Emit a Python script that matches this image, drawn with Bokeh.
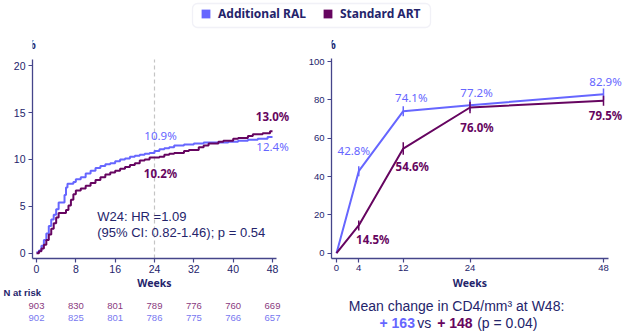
import numpy as np
from bokeh.plotting import figure
from bokeh.models import (Range1d, Label, LabelSet, ColumnDataSource, Legend,
                          LegendItem, BoxAnnotation, FixedTicker)
from bokeh.core.properties import value
from bokeh.layouts import column, row
from bokeh.embed import file_html
from bokeh.resources import INLINE

# ---------------- data ----------------
series_names = ["Additional RAL", "Standard ART"]

km_ral_weeks = [0, 0.5, 1, 1.5, 2, 2.5, 3, 3.5, 4, 4.5, 5.7, 6, 6.3, 7.5, 8, 9, 10, 11, 12,
                13, 14, 15, 16, 17, 18, 19, 20, 21, 22, 23, 24, 25, 26, 27, 28, 30, 32, 34,
                39, 41, 43, 45, 47, 48]
km_ral_pct = [0.1, 0.3, 0.8, 1.4, 2.1, 2.9, 3.6, 4.1, 4.7, 5.4, 6.2, 7.0, 7.4, 7.6, 7.9, 8.1,
              8.5, 8.8, 9.1, 9.3, 9.5, 9.6, 9.8, 10.0, 10.1, 10.3, 10.4, 10.5, 10.6, 10.7,
              10.9, 11.1, 11.2, 11.3, 11.5, 11.6, 11.7, 11.8, 11.9, 12.0, 12.1, 12.2, 12.4, 12.4]

km_art_weeks = [0, 0.5, 1, 1.5, 2, 2.5, 3, 3.5, 4, 4.5, 6, 6.5, 7, 7.5, 8, 9, 10, 11, 12, 13,
                14, 15, 16, 17, 18, 19, 20, 21, 22, 23, 25, 26, 27, 28, 30, 31, 33, 34, 35,
                37, 38, 40, 41, 43, 44, 46, 47.5, 48]
km_art_pct = [0.0, 0.2, 0.5, 0.9, 1.4, 2.0, 2.6, 3.2, 3.8, 4.3, 4.6, 5.1, 5.7, 6.3, 6.7, 6.9,
              7.2, 7.5, 7.8, 8.1, 8.4, 8.6, 8.8, 9.0, 9.2, 9.4, 9.6, 9.9, 10.0, 10.2, 10.3,
              10.5, 10.6, 10.7, 10.9, 11.0, 11.3, 11.5, 11.7, 11.9, 12.0, 12.2, 12.3, 12.5,
              12.7, 12.8, 13.0, 13.0]

km_x_ticks = [0, 8, 16, 24, 32, 40, 48]
km_y_ticks = [0, 5, 10, 15, 20]
km_marker_week = 24
km_label_weeks = [24, 24, 48, 48]
km_label_values = [10.9, 10.2, 13.0, 12.4]
km_label_series = ["RAL", "ART", "ART", "RAL"]

risk_weeks = [0, 8, 16, 24, 32, 40, 48]
risk_art = [903, 830, 801, 789, 776, 760, 669]
risk_ral = [902, 825, 801, 786, 775, 766, 657]

cd4_weeks = [0, 4, 12, 24, 48]
cd4_x_ticks = [0, 4, 12, 24, 48]
cd4_y_ticks = [0, 20, 40, 60, 80, 100]
cd4_ral = [0, 42.8, 74.1, 77.2, 82.9]
cd4_art = [0, 14.5, 54.6, 76.0, 79.5]
cd4_ral_err = [0, 2.6, 2.6, 3.0, 3.0]
cd4_art_err = [0, 2.6, 3.3, 3.0, 2.6]

hr_text = ["W24: HR =1.09", "(95% CI: 0.82-1.46);  p = 0.54"]
cd4_note = "Mean change in CD4/mm\u00b3  at W48:"
cd4_change_ral = "+ 163"
cd4_change_art = "+ 148"
cd4_p = "(p = 0.04)"

# ---------------- styles ----------------
BLUE = "#6666FF"
PURPLE = "#660560"
NAVY = "#24246B"
AXIS = "#45458A"
RISK_PURPLE = "#8A3A80"
RISK_BLUE = "#7878F0"
SANS = "Liberation Sans"
LBL = "Noto Sans"

# page geometry (pixels)
TOP_H = 30            # legend strip: page y 0..30
FRAME_TOP = 36
AXIS_Y = 258
MAIN_BOTTOM = 276     # panels: page y 30..276
MAIN_H = MAIN_BOTTOM - TOP_H
BELOW_H = 334 - MAIN_BOTTOM
# left panel: week 0 at page x 36, week 48 at x 272; 0 % at y 252.7
L_X0, L_PXW, L_Y0, L_PXV = 36.0, 236 / 48, 252.7, 9.375
# right panel (page x offset 300): week 0 at x 336; 0 % at y 252.7
R_X0, R_PXW, R_Y0, R_PXV = 336.0, 5.5625, 252.7, 1.917


def style(p, xticks, yticks, fs, xb, yb):
    p.outline_line_color = None
    p.xgrid.grid_line_color = None
    p.ygrid.grid_line_color = None
    p.background_fill_color = "white"
    p.border_fill_color = "white"
    for ax in (p.xaxis[0], p.yaxis[0]):
        ax.axis_line_color = AXIS
        ax.axis_line_width = 1.3
        ax.major_tick_line_color = AXIS
        ax.major_tick_line_width = 1.2
        ax.major_tick_out = 4
        ax.major_tick_in = 0
        ax.minor_tick_line_color = None
        ax.major_label_text_font = SANS
        ax.major_label_text_font_size = fs
        ax.major_label_text_color = NAVY
    p.xaxis[0].major_label_standoff = 2
    p.yaxis[0].major_label_standoff = 3
    p.xaxis[0].ticker = FixedTicker(ticks=xticks)
    p.yaxis[0].ticker = FixedTicker(ticks=yticks)
    p.xaxis[0].bounds = xb
    p.yaxis[0].bounds = yb


def strip(width, x_start, x_end, y_start, y_end):
    f = figure(width=width, height=BELOW_H, x_range=Range1d(x_start, x_end),
               y_range=Range1d(y_start, y_end), x_axis_type=None, y_axis_type=None,
               min_border=0, toolbar_location=None, output_backend="svg", title=None)
    f.outline_line_color = None
    f.xgrid.grid_line_color = None
    f.ygrid.grid_line_color = None
    return f


# ---------------- legend strip ----------------
top = figure(width=626, height=TOP_H, x_range=Range1d(0, 626), y_range=Range1d(0, TOP_H),
             x_axis_type=None, y_axis_type=None, min_border=0, toolbar_location=None,
             output_backend="svg", title=None)
top.outline_line_color = None
top.xgrid.grid_line_color = None
top.ygrid.grid_line_color = None
top.add_layout(BoxAnnotation(left=192, right=430, bottom=3, top=27, fill_color="white",
                             fill_alpha=1, line_color="#CFCFE6", line_width=1.3,
                             border_radius=5))
nan1 = np.array([np.nan])
r1 = top.rect(x=nan1, y=nan1, width=1, height=1, fill_color=BLUE, line_color=None)
r2 = top.rect(x=nan1, y=nan1, width=1, height=1, fill_color=PURPLE, line_color=None)
legend = Legend(items=[LegendItem(label=series_names[0], renderers=[r1]),
                       LegendItem(label=series_names[1], renderers=[r2])],
                orientation="horizontal", location=(200, 8), padding=0, margin=0,
                spacing=16, glyph_width=11, glyph_height=11, label_standoff=7,
                label_height=12, label_text_font=LBL, label_text_font_style="bold",
                label_text_font_size="12px", label_text_color=NAVY,
                border_line_color=None, background_fill_alpha=0)
top.add_layout(legend)

# ---------------- left: Kaplan-Meier ----------------
lx0, lx1 = -4 / L_PXW, 48 + 24 / L_PXW        # frame page x 32..296
ly0, ly1 = (L_Y0 - AXIS_Y) / L_PXV, (L_Y0 - FRAME_TOP) / L_PXV
left = figure(width=300, height=MAIN_H, x_range=Range1d(lx0, lx1), y_range=Range1d(ly0, ly1),
              min_border_left=32, min_border_right=4, min_border_top=FRAME_TOP - TOP_H,
              min_border_bottom=MAIN_BOTTOM - AXIS_Y, toolbar_location=None,
              output_backend="svg", title=None)
l_ytop = (L_Y0 - 59) / L_PXV
style(left, km_x_ticks, km_y_ticks, "10.5px", (lx0, 48 + 4 / L_PXW), (ly0, l_ytop))
left.segment(x0=[km_marker_week], y0=[ly0], x1=[km_marker_week], y1=[l_ytop],
             line_color="#C4C4C4", line_dash="4 3", line_width=1.2)
left.step(km_ral_weeks, km_ral_pct, mode="after", line_color=BLUE, line_width=2)
left.step(km_art_weeks, km_art_pct, mode="after", line_color=PURPLE, line_width=2)

km_dx = [6, 6, 0, 0]
km_dy = [16, -16, 15, -10]
km_src = ColumnDataSource(dict(
    x=km_label_weeks, y=km_label_values,
    text=["%.1f%%" % v for v in km_label_values],
    color=[BLUE if s == "RAL" else PURPLE for s in km_label_series],
    style=["normal" if s == "RAL" else "bold" for s in km_label_series],
    dx=km_dx, dy=km_dy))
left.add_layout(LabelSet(x="x", y="y", text="text", source=km_src, x_offset="dx",
                         y_offset="dy", text_color="color", text_font_style="style",
                         text_font=value(LBL), text_font_size=value("11.5px"),
                         text_align="center", text_baseline="middle"))

left.add_layout(Label(x=(30 - L_X0) / L_PXW, y=(L_Y0 - 44) / L_PXV, text="%",
                      text_font=LBL, text_font_size="12px", text_font_style="bold",
                      text_color=NAVY, text_align="center", text_baseline="middle"))
for i, t in enumerate(hr_text):
    left.add_layout(Label(x=(96.7 - L_X0) / L_PXW, y=(L_Y0 - 216 - 15.7 * i) / L_PXV,
                          text=t, text_font=SANS, text_font_size="13px", text_color=NAVY,
                          text_align="left", text_baseline="middle"))

# strip under the left panel (same scale as the panel)
lb = strip(300, -L_X0 / L_PXW, (300 - L_X0) / L_PXW,
           (L_Y0 - 334) / L_PXV, (L_Y0 - MAIN_BOTTOM) / L_PXV)
lb.add_layout(Label(x=24, y=(L_Y0 - 282) / L_PXV, text="Weeks", text_font=LBL,
                    text_font_size="10.5px", text_font_style="bold", text_color=NAVY,
                    text_align="center", text_baseline="middle"))
lb.add_layout(Label(x=(3 - L_X0) / L_PXW, y=(L_Y0 - 291.5) / L_PXV, text="N at risk",
                    text_font=SANS, text_font_size="9.5px", text_font_style="bold",
                    text_color=NAVY, text_align="left", text_baseline="middle"))
for vals, col, ypx in ((risk_art, RISK_PURPLE, 305.3), (risk_ral, RISK_BLUE, 317.3)):
    src = ColumnDataSource(dict(x=risk_weeks, y=[(L_Y0 - ypx) / L_PXV] * len(vals),
                                text=[str(v) for v in vals]))
    lb.add_layout(LabelSet(x="x", y="y", text="text", source=src, text_font=value(SANS),
                           text_font_size=value("9.5px"), text_color=col,
                           text_align="center", text_baseline="middle"))

# ---------------- right: CD4 ----------------
rx0, rx1 = (331 - R_X0) / R_PXW, (624 - R_X0) / R_PXW   # frame page x 331..624
ry0, ry1 = (R_Y0 - AXIS_Y) / R_PXV, (R_Y0 - FRAME_TOP) / R_PXV
right = figure(width=326, height=MAIN_H, x_range=Range1d(rx0, rx1), y_range=Range1d(ry0, ry1),
               min_border_left=31, min_border_right=2, min_border_top=FRAME_TOP - TOP_H,
               min_border_bottom=MAIN_BOTTOM - AXIS_Y, toolbar_location=None,
               output_backend="svg", title=None)
style(right, cd4_x_ticks, cd4_y_ticks, "9.5px", (rx0, (608 - R_X0) / R_PXW),
      (ry0, (R_Y0 - 58) / R_PXV))

for vals, err, col in ((cd4_ral, cd4_ral_err, BLUE), (cd4_art, cd4_art_err, PURPLE)):
    right.line(cd4_weeks, vals, line_color=col, line_width=2)
    right.segment(x0=cd4_weeks[1:], y0=[v - e for v, e in zip(vals[1:], err[1:])],
                  x1=cd4_weeks[1:], y1=[v + e for v, e in zip(vals[1:], err[1:])],
                  line_color=col, line_width=1.5)

cd4_ral_dx = [-5, 8, 6.5, 2]
cd4_ral_dy = [21, 14, 12.7, 13]
cd4_art_dx = [14, 9, 7, 2]
cd4_art_dy = [-14.4, -17.7, -19.7, -14.7]
for vals, col, fstyle, dx, dy in ((cd4_ral, BLUE, "normal", cd4_ral_dx, cd4_ral_dy),
                                  (cd4_art, PURPLE, "bold", cd4_art_dx, cd4_art_dy)):
    src = ColumnDataSource(dict(x=cd4_weeks[1:], y=vals[1:],
                                text=["%.1f%%" % v for v in vals[1:]], dx=dx, dy=dy))
    right.add_layout(LabelSet(x="x", y="y", text="text", source=src, x_offset="dx",
                              y_offset="dy", text_color=col, text_font_style=fstyle,
                              text_font=value(LBL), text_font_size=value("11.5px"),
                              text_align="center", text_baseline="middle"))

right.add_layout(Label(x=(330 - R_X0) / R_PXW, y=(R_Y0 - 44) / R_PXV, text="%",
                       text_font=LBL, text_font_size="12px", text_font_style="bold",
                       text_color=NAVY, text_align="center", text_baseline="middle"))

rb = strip(326, (300 - R_X0) / R_PXW, (626 - R_X0) / R_PXW,
           (R_Y0 - 334) / R_PXV, (R_Y0 - MAIN_BOTTOM) / R_PXV)
rb.add_layout(Label(x=24, y=(R_Y0 - 282) / R_PXV, text="Weeks", text_font=LBL,
                    text_font_size="10.5px", text_font_style="bold", text_color=NAVY,
                    text_align="center", text_baseline="middle"))
rb.add_layout(Label(x=(458 - R_X0) / R_PXW, y=(R_Y0 - 305.7) / R_PXV, text=cd4_note,
                    text_font=SANS, text_font_size="14px", text_color=NAVY,
                    text_align="center", text_baseline="middle"))
parts = [(cd4_change_ral, BLUE, "bold", 379), ("vs", NAVY, "normal", 416.7),
         (cd4_change_art, PURPLE, "bold", 436.7), (cd4_p, NAVY, "normal", 476.7)]
for t, col, fstyle, xpx in parts:
    rb.add_layout(Label(x=(xpx - R_X0) / R_PXW, y=(R_Y0 - 322) / R_PXV, text=t,
                        text_font=SANS, text_font_size="14px", text_color=col,
                        text_font_style=fstyle, text_align="left", text_baseline="middle"))

layout = column(top, row(left, right, spacing=0), row(lb, rb, spacing=0), spacing=0)
open("out.html", "w").write(file_html(layout, INLINE))
